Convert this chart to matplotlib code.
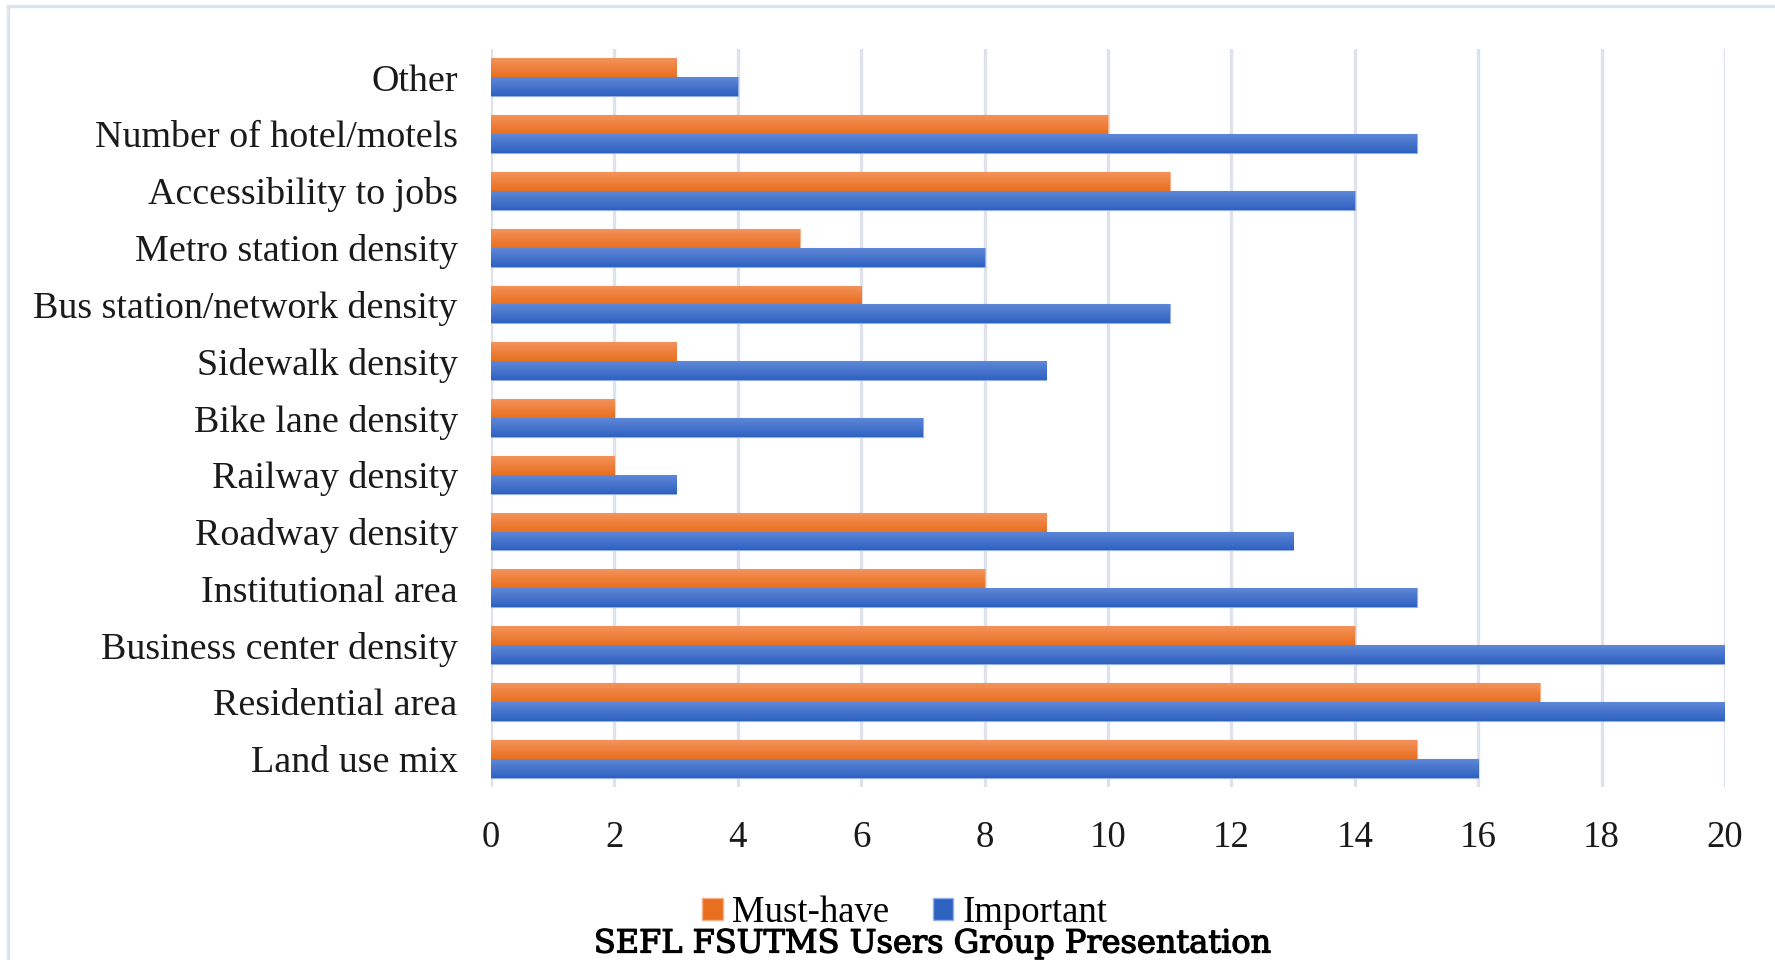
import numpy as np
import matplotlib
matplotlib.use("Agg")
import matplotlib.pyplot as plt
import matplotlib.patheffects as pe
from matplotlib.lines import Line2D
from matplotlib.patches import Patch

# Survey responses per built-environment variable (listed bottom to top)
categories = [
    "Land use mix", "Residential area", "Business center density",
    "Institutional area", "Roadway density", "Railway density",
    "Bike lane density", "Sidewalk density", "Bus station/network density",
    "Metro station density", "Accessibility to jobs",
    "Number of hotel/motels", "Other",
]
must_have = [15, 17, 14, 8, 9, 2, 2, 3, 6, 5, 11, 10, 3]
important = [16, 20, 20, 15, 13, 3, 7, 9, 11, 8, 14, 15, 4]
x_ticks = [0, 2, 4, 6, 8, 10, 12, 14, 16, 18, 20]
series_names = ["Must-have", "Important"]
footer = "SEFL FSUTMS Users Group Presentation"

SERIF = "Liberation Serif"
ORANGE_TOP, ORANGE_BOT = (0.955, 0.575, 0.36), (0.91, 0.435, 0.12)
BLUE_TOP, BLUE_BOT = (0.37, 0.53, 0.845), (0.18, 0.385, 0.755)
GRID = "#dde2eb"

fig = plt.figure(figsize=(17.75, 9.6), dpi=100)
ax = fig.add_axes([491 / 1775, 1 - 787 / 960, 1234 / 1775, 738 / 960])

y = np.arange(len(categories))
h = 1 / 3
bars_m = ax.barh(y + h / 2, must_have, height=h, color=ORANGE_BOT,
                 edgecolor="#f6b08a", linewidth=0.8, zorder=2)
bars_i = ax.barh(y - h / 2, important, height=h, color=BLUE_BOT,
                 edgecolor="#94b0e6", linewidth=0.8, zorder=2)


def shade(bars, top, bot):
    # vertical gradient fill inside each bar
    grad = np.linspace(0, 1, 64)[:, None, None]
    img = np.array(top)[None, None, :] * (1 - grad) + np.array(bot)[None, None, :] * grad
    for b in bars:
        x0, y0 = b.get_x(), b.get_y()
        w, hh = b.get_width(), b.get_height()
        im = ax.imshow(img, extent=(x0, x0 + w, y0, y0 + hh), origin="upper",
                       aspect="auto", zorder=2.5, interpolation="bilinear")
        im.set_clip_path(b)


shade(bars_m, ORANGE_TOP, ORANGE_BOT)
shade(bars_i, BLUE_TOP, BLUE_BOT)
ax.set_xlim(0, 20)
ax.set_ylim(-0.5, len(categories) - 0.5)

ax.set_xticks(x_ticks)
ax.set_xticklabels([str(t) for t in x_ticks], fontfamily=SERIF, fontsize=26.5)
ax.set_yticks(y)
ax.set_yticklabels(categories, fontfamily=SERIF, fontsize=27.4)
ax.tick_params(axis="x", length=0, pad=24, colors="#1a1a1a")
ax.tick_params(axis="y", length=0, pad=24, colors="#1a1a1a")
ax.grid(axis="x", color=GRID, linewidth=2.4, zorder=0)
ax.set_axisbelow(True)
for s in ax.spines.values():
    s.set_visible(False)

handles = [Patch(facecolor=ORANGE_BOT, edgecolor="#f6b08a"),
           Patch(facecolor=BLUE_BOT, edgecolor="#94b0e6")]
fig.legend(handles, series_names, loc="center", bbox_to_anchor=(905 / 1775, 1 - 913 / 960),
           ncol=2, frameon=False, prop={"family": SERIF, "size": 26.5},
           handlelength=0.55, handleheight=0.55, handletextpad=0.25,
           columnspacing=1.2, borderaxespad=0)

fig.text(933 / 1775, 1 - 944 / 960, footer, ha="center", va="center",
         fontfamily="DejaVu Serif", fontsize=23, color="black",
         path_effects=[pe.withStroke(linewidth=0.9, foreground="black")])

# light frame around the chart area
fig.add_artist(Line2D([8 / 1775, 1], [1 - 6 / 960] * 2, transform=fig.transFigure,
                      color=GRID, linewidth=2.4))
fig.add_artist(Line2D([8 / 1775] * 2, [0, 1 - 6 / 960], transform=fig.transFigure,
                      color=GRID, linewidth=2.4))

fig.savefig("out.png", dpi=100)
